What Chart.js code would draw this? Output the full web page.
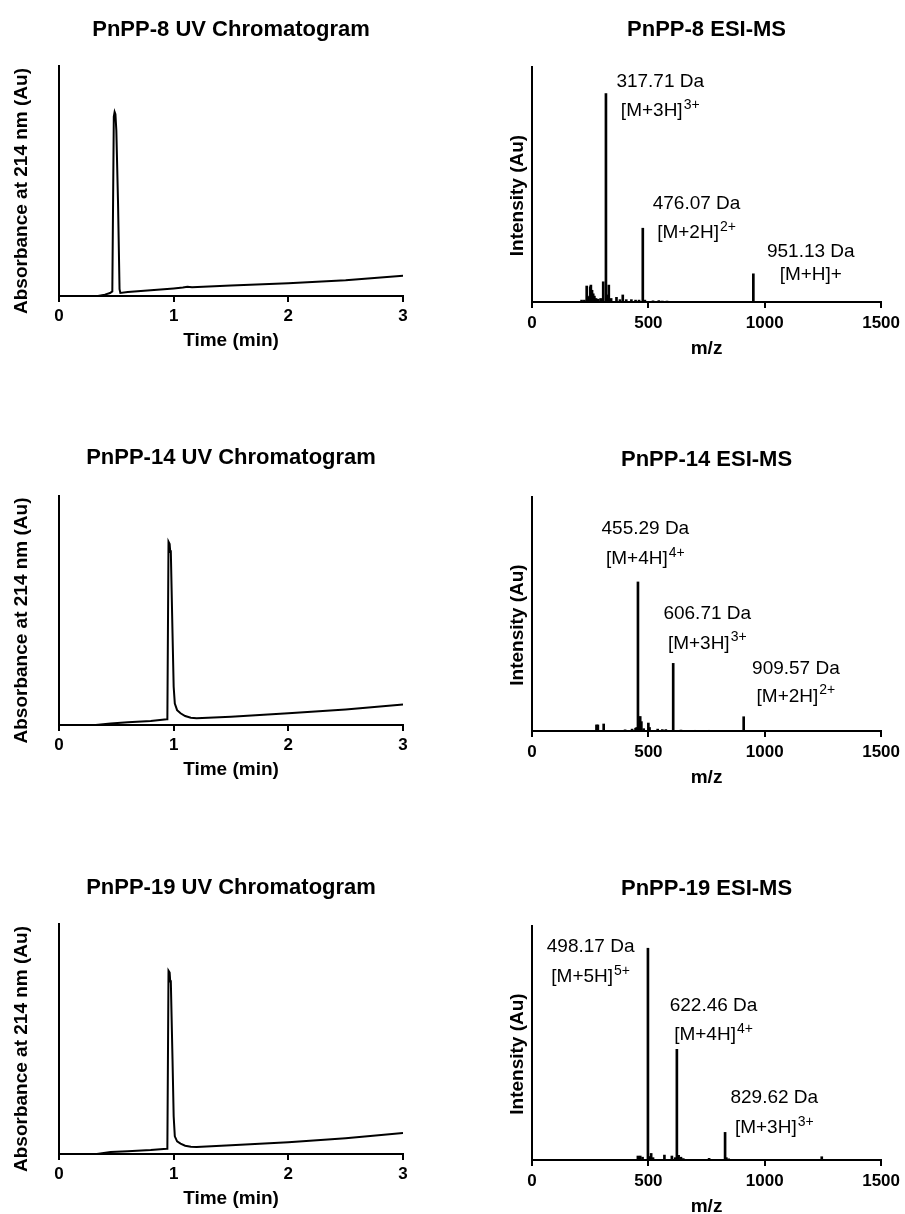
<!DOCTYPE html>
<html lang="en">
<head>
<meta charset="UTF-8">
<title>PnPP UV chromatograms and ESI-MS</title>
<script src="https://cdn.jsdelivr.net/npm/chart.js"></script>
<style>
html,body{margin:0;padding:0;background:#fff;overflow:hidden;}
body{width:905px;height:1214px;position:relative;}
.panel{position:absolute;}
.panel canvas{display:block;}
</style>
</head>
<body>
<div class="panel" style="left:0;top:0"><canvas id="uv8" width="470" height="360"></canvas></div>
<div class="panel" style="left:480px;top:0"><canvas id="ms8" width="425" height="366"></canvas></div>
<div class="panel" style="left:0;top:430px"><canvas id="uv14" width="470" height="359"></canvas></div>
<div class="panel" style="left:480px;top:430px"><canvas id="ms14" width="425" height="365"></canvas></div>
<div class="panel" style="left:0;top:858px"><canvas id="uv19" width="470" height="360"></canvas></div>
<div class="panel" style="left:480px;top:858px"><canvas id="ms19" width="425" height="366"></canvas></div>

<script>
// ---- data (absorbance / intensity as % of axis height) ----
const uvTicks = [0, 1, 2, 3];
const msTicks = [0, 500, 1000, 1500];

const uv8Time = [0, 0.34, 0.40, 0.445, 0.465, 0.478, 0.485, 0.492, 0.50, 0.515, 0.528, 0.535, 0.6, 0.8, 1.0, 1.08, 1.12, 1.16, 1.5, 2.0, 2.5, 3.0];
const uv8Abs  = [0, 0, 0.6, 1.3, 2.0, 78, 80, 79, 72, 40, 3, 1.3, 1.7, 2.5, 3.3, 3.7, 4.0, 3.8, 4.6, 5.5, 6.8, 8.8];

const uv14Time = [0, 0.32, 0.45, 0.6, 0.8, 0.94, 0.945, 0.955, 0.965, 0.97, 0.975, 0.99, 1.0, 1.01, 1.03, 1.06, 1.1, 1.15, 1.2, 1.5, 2.0, 2.5, 3.0];
const uv14Abs  = [0, 0, 0.7, 1.2, 1.7, 2.5, 2.5, 80, 79, 75.6, 76.3, 40, 16.7, 9.4, 6.5, 5.1, 3.9, 3.2, 2.9, 3.6, 5.1, 6.8, 9.0];

const uv19Time = [0, 0.33, 0.45, 0.6, 0.8, 0.94, 0.945, 0.955, 0.965, 0.97, 0.975, 0.99, 1.0, 1.01, 1.03, 1.06, 1.1, 1.15, 1.2, 1.5, 2.0, 2.5, 3.0];
const uv19Abs  = [0, 0, 0.9, 1.2, 1.7, 2.3, 2.3, 79.7, 78.9, 75, 75.5, 41, 16.4, 7.7, 5.5, 4.5, 3.6, 3.2, 3.0, 3.8, 5.1, 6.9, 9.1];

const ms8Mz  = [213, 225, 235, 240, 247, 250, 253, 258, 263, 268, 275, 285, 295, 306, 317.71, 322, 330, 340, 363, 378, 390, 405, 427, 445, 460, 476.07, 485, 520, 545, 560, 580, 951.13];
const ms8Int = [0.8, 0.8, 6.8, 2.0, 2.5, 6.5, 7.2, 5.0, 3.5, 2.5, 1.5, 1.2, 1.5, 8.6, 88.7, 3.0, 7.2, 1.5, 2.0, 1.0, 3.0, 1.0, 1.0, 0.8, 0.8, 31.4, 0.8, 0.5, 0.6, 0.4, 0.4, 12];
const ms8LabelMz   = [551, 707, 1198];
const ms8LabelTop  = [93.6, 41.7, 21.5];
const ms8LabelLow  = [81.2, 29.3, 11.6];
const ms8Mass   = ['317.71 Da', '476.07 Da', '951.13 Da'];
const ms8Ion    = ['[M+3H]', '[M+2H]', '[M+H]+'];
const ms8Charge = ['3+', '2+', ''];

const ms14Mz  = [277, 283, 308, 400, 430, 445, 450, 455.29, 460, 465, 470, 480, 500, 505, 540, 560, 575, 606.71, 640, 700, 760, 909.57];
const ms14Int = [2.6, 2.6, 3.0, 0.5, 0.8, 1.2, 1.5, 63.7, 6.0, 6.2, 4.0, 1.0, 3.4, 1.5, 0.8, 0.6, 0.6, 28.9, 0.4, 0.3, 0.3, 6.1];
const ms14LabelMz  = [487, 753, 1134];
const ms14LabelTop = [86.5, 50.2, 26.7];
const ms14LabelLow = [73.6, 37.4, 14.7];
const ms14Mass   = ['455.29 Da', '606.71 Da', '909.57 Da'];
const ms14Ion    = ['[M+4H]', '[M+3H]', '[M+2H]'];
const ms14Charge = ['4+', '3+', '2+'];

const ms19Mz  = [455, 465, 475, 498.17, 505, 512, 520, 569, 601, 615, 622.46, 630, 640, 650, 761, 829.62, 835, 845, 1245];
const ms19Int = [1.7, 1.7, 1.2, 90.5, 1.5, 2.8, 1.0, 2.1, 1.7, 1.0, 47.3, 2.0, 1.2, 0.6, 0.7, 11.8, 1.0, 0.5, 1.4];
const ms19LabelMz  = [252, 780, 1041];
const ms19LabelTop = [91.2, 65.8, 26.4];
const ms19LabelLow = [78.3, 53.4, 13.8];
const ms19Mass   = ['498.17 Da', '622.46 Da', '829.62 Da'];
const ms19Ion    = ['[M+5H]', '[M+4H]', '[M+3H]'];
const ms19Charge = ['5+', '4+', '3+'];

// ---- drawing ----
const FONT = "'Liberation Sans', Arial, Helvetica, sans-serif";
Chart.defaults.font.family = FONT;
Chart.defaults.color = '#000';

// panel title, rotated y title and peak labels
const panelText = {
  id: 'panelText',
  afterDraw(chart, args, o) {
    const {ctx, chartArea: a, scales: {x, y}} = chart;
    ctx.save();
    ctx.fillStyle = '#000';
    ctx.textAlign = 'center';
    ctx.textBaseline = 'middle';
    ctx.font = 'bold 22px ' + FONT;
    ctx.fillText(o.title, (a.left + a.right) / 2, a.top - o.titleGap);
    ctx.save();
    ctx.translate(o.yTitleX, (a.top + a.bottom) / 2 + o.yTitleShift);
    ctx.rotate(-Math.PI / 2);
    ctx.font = 'bold 19px ' + FONT;
    ctx.fillText(o.yTitle, 0, 0);
    ctx.restore();
    if (o.labels) {
      const L = o.labels;
      L.mz.forEach((mz, i) => {
        const px = x.getPixelForValue(mz);
        ctx.textAlign = 'center';
        ctx.font = '19px ' + FONT;
        ctx.fillText(L.mass[i], px, y.getPixelForValue(L.top[i]));
        const y2 = y.getPixelForValue(L.low[i]);
        const wb = ctx.measureText(L.ion[i]).width;
        ctx.font = '14px ' + FONT;
        const ws = L.charge[i] ? ctx.measureText(L.charge[i]).width + 1 : 0;
        const start = px - (wb + ws) / 2;
        ctx.textAlign = 'left';
        ctx.font = '19px ' + FONT;
        ctx.fillText(L.ion[i], start, y2);
        if (L.charge[i]) {
          ctx.font = '14px ' + FONT;
          ctx.fillText(L.charge[i], start + wb + 1, y2 - 6);
        }
      });
    }
    ctx.restore();
  }
};

function axisOptions(g, max, ticks, xTitle, tickPad, titlePad) {
  return {
    x: {
      type: 'linear', min: 0, max: max, offset: false,
      afterBuildTicks: s => { s.ticks = ticks.map(v => ({value: v})); },
      afterFit: s => { s.height = g.xh; },
      ticks: {font: {size: 17, weight: 'bold'}, color: '#000', padding: tickPad, maxRotation: 0,
        callback: v => String(v)},
      grid: {display: true, drawOnChartArea: false, drawTicks: true, tickLength: 6, color: '#000', lineWidth: 2, offset: false},
      border: {display: true, color: '#000', width: 2},
      title: {display: true, text: xTitle, color: '#000', font: {size: 19, weight: 'bold'}, padding: {top: 0, bottom: titlePad}}
    },
    y: {
      type: 'linear', min: 0, max: 100,
      afterFit: s => { s.width = g.yw; },
      ticks: {display: false},
      grid: {display: false},
      border: {display: true, color: '#000', width: 2}
    }
  };
}

function uvPanel(id, g, title, times, abs) {
  new Chart(document.getElementById(id), {
    type: 'line',
    data: {datasets: [{data: times.map((t, i) => ({x: t, y: abs[i]})), borderColor: '#000', borderWidth: 2,
      pointRadius: 0, tension: 0, fill: false}]},
    options: {
      responsive: false, animation: false, events: [],
      layout: {padding: {left: 0, top: g.padTop, right: g.padRight, bottom: 0}},
      scales: axisOptions(g, 3, uvTicks, 'Time (min)', 4, 7.5),
      plugins: {legend: {display: false}, tooltip: {enabled: false},
        panelText: {title: title, titleGap: g.titleGap, yTitle: 'Absorbance at 214 nm (Au)', yTitleX: 22, yTitleShift: 10}}
    },
    plugins: [panelText]
  });
}

function msPanel(id, g, title, mz, inten, labels) {
  new Chart(document.getElementById(id), {
    type: 'bar',
    data: {datasets: [{data: mz.map((m, i) => ({x: m, y: inten[i]})), backgroundColor: '#000', borderWidth: 0,
      barThickness: 2}]},
    options: {
      responsive: false, animation: false, events: [],
      layout: {padding: {left: 0, top: g.padTop, right: g.padRight, bottom: 0}},
      scales: axisOptions(g, 1500, msTicks, 'm/z', 5, 5.5),
      plugins: {legend: {display: false}, tooltip: {enabled: false},
        panelText: {title: title, titleGap: g.titleGap, yTitle: 'Intensity (Au)', yTitleX: 38, yTitleShift: 11, labels: labels}}
    },
    plugins: [panelText]
  });
}

const uvGeo = [
  {padTop: 66, padRight: 67, yw: 59, xh: 64, titleGap: 36},
  {padTop: 66, padRight: 67, yw: 59, xh: 64, titleGap: 38},
  {padTop: 66, padRight: 67, yw: 59, xh: 64, titleGap: 36}
];
const msGeo = [
  {padTop: 67, padRight: 22, yw: 52, xh: 64, titleGap: 37},
  {padTop: 67, padRight: 22, yw: 52, xh: 64, titleGap: 37},
  {padTop: 68, padRight: 22, yw: 52, xh: 64, titleGap: 37}
];

uvPanel('uv8', uvGeo[0], 'PnPP-8 UV Chromatogram', uv8Time, uv8Abs);
uvPanel('uv14', uvGeo[1], 'PnPP-14 UV Chromatogram', uv14Time, uv14Abs);
uvPanel('uv19', uvGeo[2], 'PnPP-19 UV Chromatogram', uv19Time, uv19Abs);

msPanel('ms8', msGeo[0], 'PnPP-8 ESI-MS', ms8Mz, ms8Int,
  {mz: ms8LabelMz, top: ms8LabelTop, low: ms8LabelLow, mass: ms8Mass, ion: ms8Ion, charge: ms8Charge});
msPanel('ms14', msGeo[1], 'PnPP-14 ESI-MS', ms14Mz, ms14Int,
  {mz: ms14LabelMz, top: ms14LabelTop, low: ms14LabelLow, mass: ms14Mass, ion: ms14Ion, charge: ms14Charge});
msPanel('ms19', msGeo[2], 'PnPP-19 ESI-MS', ms19Mz, ms19Int,
  {mz: ms19LabelMz, top: ms19LabelTop, low: ms19LabelLow, mass: ms19Mass, ion: ms19Ion, charge: ms19Charge});
</script>
</body>
</html>
